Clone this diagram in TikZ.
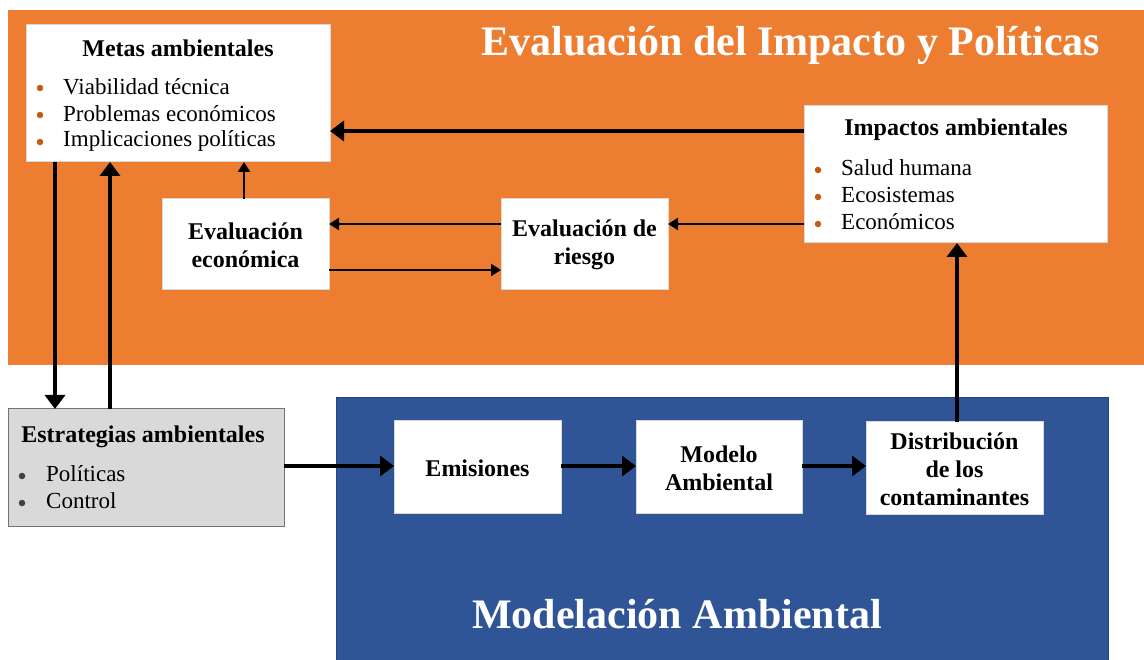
\documentclass[tikz,border=0pt]{standalone}
\usepackage{fontspec}
\setmainfont{Liberation Serif}
\usetikzlibrary{arrows.meta}
\definecolor{orbg}{HTML}{ED7D31}
\definecolor{blbg}{HTML}{2F5597}
\definecolor{bulor}{HTML}{C55A11}
\definecolor{bulgr}{HTML}{404040}
\definecolor{grbox}{HTML}{D9D9D9}
\begin{document}
\begin{tikzpicture}[x=1pt,y=-1pt,
  wbox/.style={draw=black!15,line width=1pt,fill=white,inner sep=0pt,outer sep=0pt},
  gbox/.style={draw=black!55,line width=1pt,fill=grbox,inner sep=0pt,outer sep=0pt},
  head/.style={font=\fontsize{24}{28}\selectfont\bfseries,inner sep=0pt,align=center},
  item/.style={font=\fontsize{23}{27}\selectfont,inner sep=0pt,anchor=west},
  bul/.style={circle,inner sep=0pt,minimum size=6.5pt},
  thick arrow/.style={line width=4pt,-{Triangle[width=20pt,length=14pt]}},
  thin arrow/.style={line width=2.4pt,-{Triangle[width=12pt,length=10pt]}}
]
\useasboundingbox (0,0) rectangle (1144,660);
\fill[white] (0,0) rectangle (1144,660);
% panels
\node[fill=orbg,inner sep=0pt,minimum width=1136pt,minimum height=355pt] (orange) at (576,187.5) {};
\node[fill=blbg,draw=blbg!80!black,line width=1pt,inner sep=0pt,minimum width=772pt,minimum height=262pt] (blue) at (722,529) {};
\node[font=\fontsize{42}{46}\selectfont\bfseries,text=white,inner sep=0pt] (titleA) at (791,45) {Evaluación del Impacto y Políticas};
\node[font=\fontsize{42}{46}\selectfont\bfseries,text=white,inner sep=0pt] (titleB) at (677,614) {Modelación Ambiental};
% boxes
\node[wbox,minimum width=304pt,minimum height=137pt] (metas) at (178,93.5) {};
\node[wbox,minimum width=303pt,minimum height=137pt] (imp) at (955.5,174.5) {};
\node[wbox,minimum width=167pt,minimum height=91pt] (econ) at (245.5,244.5) {};
\node[wbox,minimum width=167pt,minimum height=91pt] (riesgo) at (584.5,244.5) {};
\node[gbox,minimum width=276pt,minimum height=117pt] (estr) at (146,467.5) {};
\node[wbox,minimum width=167pt,minimum height=92pt] (emis) at (477.5,467) {};
\node[wbox,minimum width=166pt,minimum height=92pt] (modelo) at (719,467) {};
\node[wbox,minimum width=177pt,minimum height=92pt] (dist) at (954.5,468) {};
% texts
\node[head] (metasH) at (178,48) {Metas ambientales};
\node[bul,fill=bulor] (mb1) at (40,88) {};
\node[bul,fill=bulor] (mb2) at (40,115) {};
\node[bul,fill=bulor] (mb3) at (40,142) {};
\node[item] (m1) at (63,87) {Viabilidad técnica};
\node[item] (m2) at (63,114) {Problemas económicos};
\node[item] (m3) at (63,141) {Implicaciones políticas};
\node[head] (impH) at (956,130) {Impactos ambientales};
\node[bul,fill=bulor] (ib1) at (818,170) {};
\node[bul,fill=bulor] (ib2) at (818,197) {};
\node[bul,fill=bulor] (ib3) at (818,224) {};
\node[item] (i1) at (841,168) {Salud humana};
\node[item] (i2) at (841,195) {Ecosistemas};
\node[item] (i3) at (841,222) {Económicos};
\node[head] (estrH) at (143,437) {Estrategias ambientales};
\node[bul,fill=bulgr] (eb1) at (22,476) {};
\node[bul,fill=bulgr] (eb2) at (22,503) {};
\node[item] (e1) at (46,474) {Políticas};
\node[item] (e2) at (46,501) {Control};
\node[head] (econT) at (245.5,245) {Evaluación\\económica};
\node[head] (riesgoT) at (584.5,245) {Evaluación de\\riesgo};
\node[head] (emisT) at (477.5,468) {Emisiones};
\node[head] (modeloT) at (719,468) {Modelo\\Ambiental};
\node[head] (distT) at (954.5,469) {Distribución\\de los\\contaminantes};
% connectors
\draw[thick arrow] (imp.west |- 0,131) -- (metas.east |- 0,131);
\draw[thick arrow] (metas.south -| 55,0) -- (estr.north -| 55,0);
\draw[thick arrow] (estr.north -| 110,0) -- (metas.south -| 110,0);
\draw[thin arrow] (econ.north -| 244,0) -- (metas.south -| 244,0);
\draw[thin arrow] (riesgo.west |- 0,224) -- (econ.east |- 0,224);
\draw[thin arrow] (econ.east |- 0,270) -- (riesgo.west |- 0,270);
\draw[thin arrow] (imp.west |- 0,224) -- (riesgo.east |- 0,224);
\draw[thick arrow] (estr.east |- 0,466) -- (emis.west |- 0,466);
\draw[thick arrow] (emis.east |- 0,466) -- (modelo.west |- 0,466);
\draw[thick arrow] (modelo.east |- 0,466) -- (dist.west |- 0,466);
\draw[thick arrow] (dist.north -| 957,0) -- (imp.south -| 957,0);
\end{tikzpicture}
\end{document}
